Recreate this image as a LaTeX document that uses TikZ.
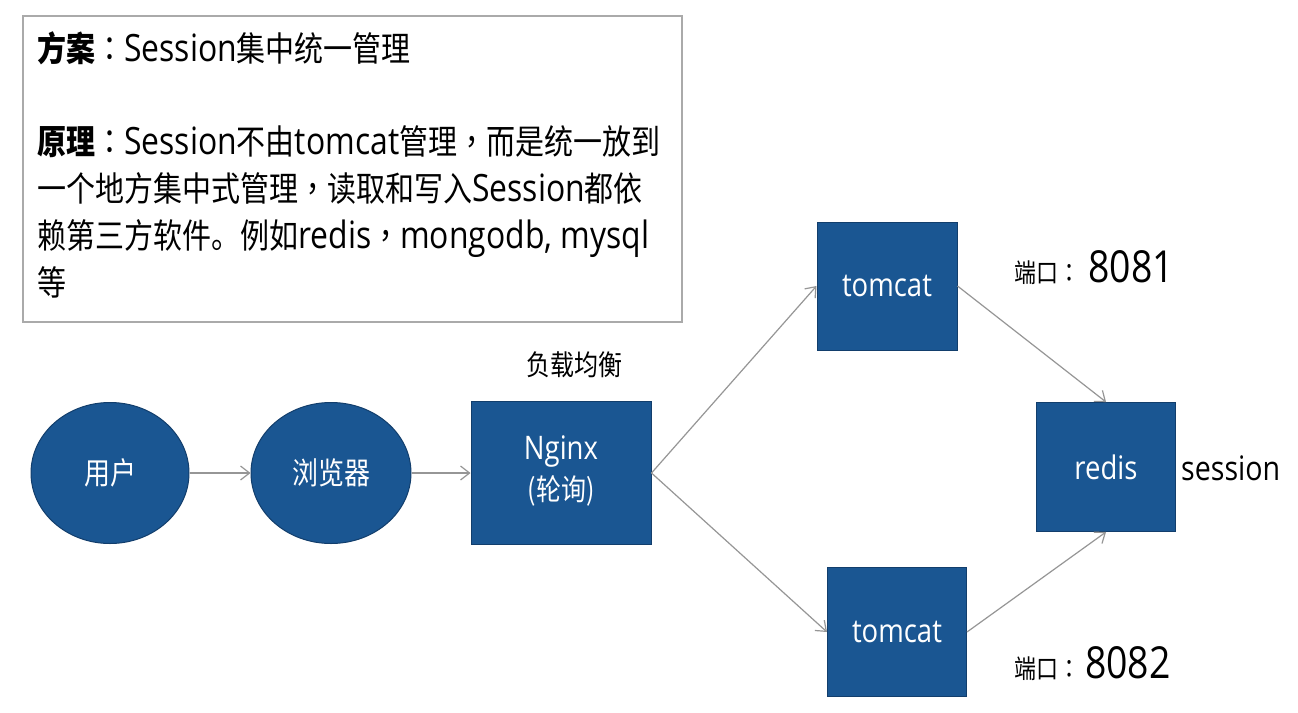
\documentclass[tikz,border=0pt]{standalone}
\usepackage{fontspec}
\usepackage{graphicx}
\setmainfont{Noto Sans CJK SC}
\newfontfamily\latf[Scale=1.1]{Open Sans}
\newfontfamily\tcf{Noto Sans CJK TC}
\usetikzlibrary{shapes.geometric,arrows.meta}
\definecolor{boxblue}{RGB}{26,86,146}
\definecolor{boxedge}{RGB}{18,62,108}
\definecolor{linegray}{RGB}{150,150,150}
\definecolor{framegray}{RGB}{170,170,170}
\newcommand\vs[1]{\scalebox{1}[1.18]{#1}}
\newcommand\lt[1]{{\latf #1}}
\newcommand\pc[1]{{\tcf #1}}
\tikzset{
  bluebox/.style={rectangle, fill=boxblue, draw=boxedge, line width=1pt, inner sep=0pt, text=white, font=\fontsize{25}{30}\selectfont},
  blueell/.style={ellipse, fill=boxblue, draw=boxedge, line width=1pt, inner sep=0pt, text=white, font=\fontsize{26}{30}\selectfont},
  conn/.style={draw=linegray, line width=1.2pt, -{Straight Barb[length=9pt,width=14pt,line width=1.2pt]}},
  bodytext/.style={anchor=base west, inner sep=0pt, font=\fontsize{29}{32}\selectfont},
  plain/.style={inner sep=0pt}
}
\begin{document}
\begin{tikzpicture}[x=1pt,y=-1pt]
\useasboundingbox (0,0) rectangle (1298,712);
\fill[white] (0,0) rectangle (1298,712);

% text frame
\node[draw=framegray, line width=1.5pt, anchor=north west, minimum width=659pt, minimum height=306pt, inner sep=0pt] (frame) at (22,15) {};
\node[bodytext] (t1) at (37,61) {\vs{\textbf{方案}\pc{：}\lt{Session}集中统一管理}};
\node[bodytext] (t2) at (37,154) {\vs{\textbf{原理}\pc{：}\lt{Session}不由\lt{tomcat}管理\pc{，}而是统一放到}};
\node[bodytext] (t3) at (37,201) {\vs{一个地方集中式管理\pc{，}读取和写入\lt{Session}都依}};
\node[bodytext] (t4) at (37,248) {\vs{赖第三方软件。例如\lt{redis}\pc{，}\lt{mongodb, mysql}}};
\node[bodytext] (t5) at (37,295) {\vs{等}};

% nodes
\node[blueell, minimum width=158pt, minimum height=141pt] (user) at (110,473) {\vs{用户}};
\node[blueell, minimum width=160pt, minimum height=141pt] (browser) at (331,473) {\vs{浏览器}};
\node[bluebox, minimum width=180pt, minimum height=143pt] (nginx) at (561,473) {\vs{\begin{tabular}{@{}c@{}}\lt{Nginx}\\[4pt](轮询)\end{tabular}}};
\node[bluebox, minimum width=140pt, minimum height=128pt] (tc1) at (887,286) {\vs{\lt{tomcat}}};
\node[bluebox, minimum width=139pt, minimum height=129pt] (tc2) at (897,632) {\vs{\lt{tomcat}}};
\node[bluebox, minimum width=139pt, minimum height=129pt] (redis) at (1106,467) {\vs{\lt{redis}}};

% labels
\node[plain, font=\fontsize{24}{26}\selectfont] (lb) at (574,365) {\vs{负载均衡}};
\node[plain, anchor=west, font=\fontsize{26}{30}\selectfont] (sess) at (1181,468) {\vs{\lt{session}}};
\node[plain, anchor=west] (p1) at (1014,268) {\vs{\fontsize{22}{24}\selectfont 端口\pc{：}\hspace{8pt}\fontsize{34}{38}\selectfont\lt{8081}}};
\node[plain, anchor=west] (p2) at (1014,664) {\vs{\fontsize{22}{24}\selectfont 端口\pc{：}\hspace{5pt}\fontsize{34}{38}\selectfont\lt{8082}}};

% connectors
\draw[conn] (user) -- (browser);
\draw[conn] (browser) -- (nginx);
\draw[conn] (nginx.east) -- (tc1.west);
\draw[conn] (nginx.east) -- (tc2.west);
\draw[conn] (tc1.east) -- (redis.north);
\draw[conn] (tc2.east) -- (redis.south);
\end{tikzpicture}
\end{document}
